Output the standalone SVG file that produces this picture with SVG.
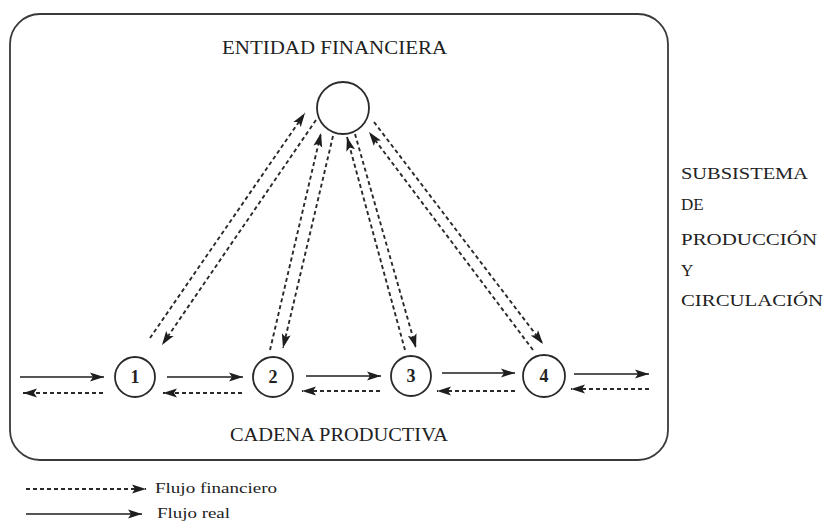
<svg xmlns="http://www.w3.org/2000/svg" width="825" height="521" viewBox="0 0 825 521">
<defs>
<marker id="ah" markerUnits="userSpaceOnUse" markerWidth="15" markerHeight="10" refX="14" refY="5" orient="auto">
<path d="M0,0.5 L14,5 L0,9.5 L3,5 Z" fill="#1e1e1e"/>
</marker>
</defs>
<style>
.frame{fill:none;stroke:#3a3a3a;stroke-width:1.8}
.node{fill:#fff;stroke:#2a2a2a;stroke-width:1.8}
.real{stroke:#1e1e1e;stroke-width:1.7;fill:none}
.fin{stroke:#2a2a2a;stroke-width:1.9;fill:none;stroke-dasharray:4 3}
.lbl{font-family:"Liberation Serif","Times New Roman",serif;fill:#222}
.num{font-family:"Liberation Serif","Times New Roman",serif;font-weight:bold;font-size:18px;fill:#222;text-anchor:middle}
</style>
<rect class="frame" x="10" y="14" width="658" height="446" rx="30" ry="30"/>
<text class="lbl" x="222" y="54" font-size="18" textLength="225" lengthAdjust="spacingAndGlyphs">ENTIDAD FINANCIERA</text>
<text class="lbl" x="230" y="441" font-size="18" textLength="218" lengthAdjust="spacingAndGlyphs">CADENA PRODUCTIVA</text>
<g id="subsistema" class="lbl" font-size="17">
<text x="681" y="179" textLength="127" lengthAdjust="spacingAndGlyphs">SUBSISTEMA</text>
<text x="681" y="210">DE</text>
<text x="681" y="245" textLength="136" lengthAdjust="spacingAndGlyphs">PRODUCCIÓN</text>
<text x="681" y="276">Y</text>
<text x="681" y="306" textLength="142" lengthAdjust="spacingAndGlyphs">CIRCULACIÓN</text>
</g>
<g id="connectors">
<line class="real" x1="20" y1="377" x2="104" y2="377" marker-end="url(#ah)"/>
<line class="fin" x1="103" y1="393" x2="23" y2="393" marker-end="url(#ah)"/>
<line class="real" x1="167" y1="377" x2="243" y2="377" marker-end="url(#ah)"/>
<line class="fin" x1="242" y1="393" x2="163" y2="393" marker-end="url(#ah)"/>
<line class="real" x1="306" y1="376" x2="381" y2="376" marker-end="url(#ah)"/>
<line class="fin" x1="380" y1="391" x2="302" y2="391" marker-end="url(#ah)"/>
<line class="real" x1="442" y1="373" x2="515" y2="373" marker-end="url(#ah)"/>
<line class="fin" x1="515" y1="391" x2="437" y2="391" marker-end="url(#ah)"/>
<line class="real" x1="574" y1="374" x2="649" y2="374" marker-end="url(#ah)"/>
<line class="fin" x1="649" y1="389" x2="571" y2="389" marker-end="url(#ah)"/>
<line class="fin" x1="150" y1="338" x2="305" y2="113" marker-end="url(#ah)"/>
<line class="fin" x1="316" y1="120" x2="162" y2="345" marker-end="url(#ah)"/>
<line class="fin" x1="270" y1="350" x2="321" y2="133" marker-end="url(#ah)"/>
<line class="fin" x1="333" y1="136" x2="283" y2="348" marker-end="url(#ah)"/>
<line class="fin" x1="405" y1="350" x2="347" y2="137" marker-end="url(#ah)"/>
<line class="fin" x1="355" y1="134" x2="416" y2="348" marker-end="url(#ah)"/>
<line class="fin" x1="533" y1="350" x2="369" y2="132" marker-end="url(#ah)"/>
<line class="fin" x1="374" y1="122" x2="543" y2="344" marker-end="url(#ah)"/>
</g>
<g id="entidad"><circle class="node" cx="343" cy="108" r="26"/></g>
<g id="n1"><circle class="node" cx="135" cy="377" r="20"/><text class="num" x="135" y="383">1</text></g>
<g id="n2"><circle class="node" cx="273" cy="377" r="20"/><text class="num" x="273" y="383">2</text></g>
<g id="n3"><circle class="node" cx="411" cy="376" r="20"/><text class="num" x="411" y="382">3</text></g>
<g id="n4"><circle class="node" cx="544" cy="376" r="21"/><text class="num" x="544" y="382">4</text></g>
<g id="legend">
<line class="fin" x1="26" y1="489" x2="146" y2="489" marker-end="url(#ah)"/>
<text class="lbl" x="155" y="493" font-size="14.5" textLength="122" lengthAdjust="spacingAndGlyphs">Flujo financiero</text>
<line class="real" x1="26" y1="514" x2="142" y2="514" marker-end="url(#ah)"/>
<text class="lbl" x="157" y="518" font-size="14.5" textLength="73" lengthAdjust="spacingAndGlyphs">Flujo real</text>
</g>
</svg>
